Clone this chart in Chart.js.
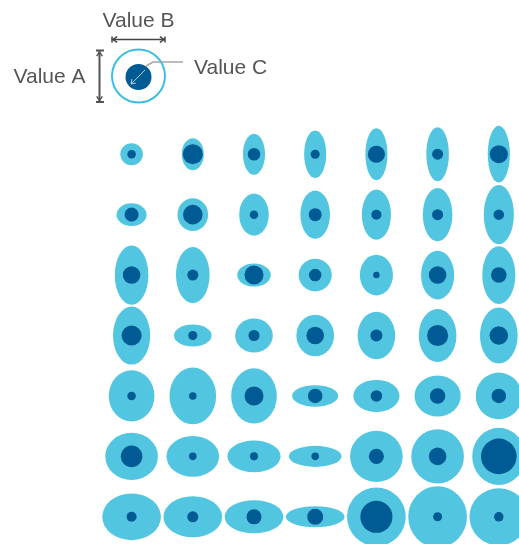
<!DOCTYPE html>
<html>
<head>
<meta charset="utf-8">
<script src="https://cdn.jsdelivr.net/npm/chart.js@4"></script>
<style>
  html, body { margin: 0; padding: 0; background: #fff; }
  #wrap { width: 519px; height: 544px; }
</style>
</head>
<body>
<div id="wrap"><canvas id="ellipses" width="519" height="544"></canvas></div>
<script>
// grid: 7 columns x 7 rows, row 1 at the top
const columns = [1, 2, 3, 4, 5, 6, 7];
const rows = [1, 2, 3, 4, 5, 6, 7];

// Value A = height of outer ellipse, one array per row
const valueA_r1 = [22, 32, 41, 47.5, 52, 54, 56.5];
const valueA_r2 = [22.5, 32.5, 42, 48, 50, 53, 59];
const valueA_r3 = [59, 56, 23, 32.5, 40.5, 48.5, 57.5];
const valueA_r4 = [58, 22, 34, 41.5, 47.5, 53, 56];
const valueA_r5 = [51, 56.5, 55, 21.5, 32, 41, 46.5];
const valueA_r6 = [47, 40.5, 31.5, 21, 51, 54, 57];
const valueA_r7 = [46.5, 41, 33, 21, 58.5, 61, 57];

// Value B = width of outer ellipse
const valueB_r1 = [22.5, 22, 22, 22, 22, 22.5, 22];
const valueB_r2 = [30, 30.5, 29.5, 29.5, 29, 29.5, 30];
const valueB_r3 = [33.5, 33.5, 33.5, 33, 33, 33, 33];
const valueB_r4 = [37, 37.5, 37.5, 37.5, 37.5, 37.5, 37.5];
const valueB_r5 = [45.5, 46.5, 45.5, 46, 46, 46, 46];
const valueB_r6 = [52.5, 52.5, 53, 52.5, 52.5, 52.5, 53];
const valueB_r7 = [58.5, 58.5, 58.5, 58.5, 58.5, 58.5, 58.5];

// Value C = diameter of inner circle
const valueC_r1 = [8.5, 20, 12.5, 9, 17, 11, 18];
const valueC_r2 = [14, 19.5, 8.5, 13, 10, 11, 10.5];
const valueC_r3 = [17.5, 11, 19, 12.5, 6.5, 17.5, 15.5];
const valueC_r4 = [20, 9, 11, 17.5, 12, 21, 18.5];
const valueC_r5 = [8.5, 7.5, 19, 14.5, 11.5, 15.5, 14.5];
const valueC_r6 = [21.5, 7.5, 8, 7.5, 15, 17.5, 35.5];
const valueC_r7 = [10, 11, 15, 16, 32, 9, 9.5];

const valueA = [valueA_r1, valueA_r2, valueA_r3, valueA_r4, valueA_r5, valueA_r6, valueA_r7];
const valueB = [valueB_r1, valueB_r2, valueB_r3, valueB_r4, valueB_r5, valueB_r6, valueB_r7];
const valueC = [valueC_r1, valueC_r2, valueC_r3, valueC_r4, valueC_r5, valueC_r6, valueC_r7];

const UNITS_PER_STEP = 61; // value units in one column step
const outerColor = '#52c6e0';
const innerColor = '#005a94';
const textColor = '#555555';

// one point per cell
const points = [];
rows.forEach(function (r, ri) {
  columns.forEach(function (c, ci) {
    points.push({ x: c, y: r, a: valueA[ri][ci], b: valueB[ri][ci], c: valueC[ri][ci] });
  });
});

// draws the ellipses at the positions given by the scales
const ellipsePlugin = {
  id: 'ellipses',
  afterDatasetsDraw(chart) {
    const ctx = chart.ctx;
    const xs = chart.scales.x;
    const unit = Math.abs(xs.getPixelForValue(1) - xs.getPixelForValue(0)) / UNITS_PER_STEP;
    const meta = chart.getDatasetMeta(0);
    ctx.save();
    meta.data.forEach(function (el, i) {
      const p = points[i];
      ctx.fillStyle = outerColor;
      ctx.beginPath();
      ctx.ellipse(el.x, el.y, p.b / 2 * unit, p.a / 2 * unit, 0, 0, Math.PI * 2);
      ctx.fill();
      ctx.fillStyle = innerColor;
      ctx.beginPath();
      ctx.arc(el.x, el.y, p.c / 2 * unit, 0, Math.PI * 2);
      ctx.fill();
    });
    ctx.restore();
  }
};

function arrowHead(ctx, x, y, ang) {
  const s = 5;
  ctx.beginPath();
  ctx.moveTo(x + Math.cos(ang + 0.6) * s, y + Math.sin(ang + 0.6) * s);
  ctx.lineTo(x, y);
  ctx.lineTo(x + Math.cos(ang - 0.6) * s, y + Math.sin(ang - 0.6) * s);
  ctx.stroke();
}

// the key in the top left corner
const keyPlugin = {
  id: 'key',
  afterDraw(chart) {
    const ctx = chart.ctx;
    ctx.save();
    ctx.font = '21px "Liberation Sans", Arial, sans-serif';
    ctx.fillStyle = textColor;
    ctx.textBaseline = 'alphabetic';
    ctx.textAlign = 'center';
    ctx.fillText('Value B', 138.5, 26.5);
    ctx.textAlign = 'left';
    ctx.fillText('Value A', 13.5, 83);
    ctx.fillText('Value C', 194, 74);

    // width arrow
    ctx.strokeStyle = '#444';
    ctx.lineWidth = 1.5;
    ctx.beginPath();
    ctx.moveTo(112, 39.5); ctx.lineTo(165, 39.5);
    ctx.moveTo(112, 36.5); ctx.lineTo(112, 42.5);
    ctx.moveTo(165, 36.5); ctx.lineTo(165, 42.5);
    ctx.stroke();
    arrowHead(ctx, 113, 39.5, 0);
    arrowHead(ctx, 164, 39.5, Math.PI);

    // height arrow
    ctx.strokeStyle = '#555';
    ctx.lineWidth = 2;
    ctx.beginPath();
    ctx.moveTo(99.5, 50); ctx.lineTo(99.5, 102.5);
    ctx.moveTo(96, 50.5); ctx.lineTo(104, 50.5);
    ctx.moveTo(96, 102); ctx.lineTo(104, 102);
    ctx.stroke();
    ctx.lineWidth = 1.5;
    arrowHead(ctx, 99.5, 52, Math.PI / 2);
    arrowHead(ctx, 99.5, 100.5, -Math.PI / 2);

    // ring and inner circle
    ctx.strokeStyle = '#3dbde3';
    ctx.lineWidth = 2;
    ctx.fillStyle = '#fff';
    ctx.beginPath();
    ctx.arc(138.5, 76, 26.5, 0, Math.PI * 2);
    ctx.fill();
    ctx.stroke();
    ctx.fillStyle = innerColor;
    ctx.beginPath();
    ctx.arc(138.5, 77, 13, 0, Math.PI * 2);
    ctx.fill();

    // radius marker inside
    ctx.strokeStyle = '#b9c9d6';
    ctx.lineWidth = 1;
    ctx.beginPath();
    ctx.moveTo(131, 84); ctx.lineTo(145, 70);
    ctx.stroke();
    arrowHead(ctx, 131, 84, -Math.PI / 4);

    // leader line to "Value C"
    ctx.strokeStyle = '#a6a6a6';
    ctx.lineWidth = 1.5;
    ctx.beginPath();
    ctx.moveTo(146, 66); ctx.lineTo(153, 62); ctx.lineTo(183, 62);
    ctx.stroke();
    ctx.restore();
  }
};

document.addEventListener('DOMContentLoaded', function () {
  const ctx = document.getElementById('ellipses').getContext('2d');

  new Chart(ctx, {
    type: 'scatter',
    data: {
      datasets: [{
        label: 'Values',
        data: points,
        pointRadius: 0,
        pointHoverRadius: 0
      }]
    },
    options: {
      responsive: false,
      animation: false,
      layout: { padding: { left: 101, top: 124, right: 0, bottom: 0 } },
      plugins: { legend: { display: false }, tooltip: { enabled: false } },
      scales: {
        x: { type: 'linear', display: false, min: 0.5, max: 7.33 },
        y: { type: 'linear', display: false, reverse: true, min: 0.5, max: 7.45 }
      }
    },
    plugins: [ellipsePlugin, keyPlugin]
  });
});
</script>
</body>
</html>
